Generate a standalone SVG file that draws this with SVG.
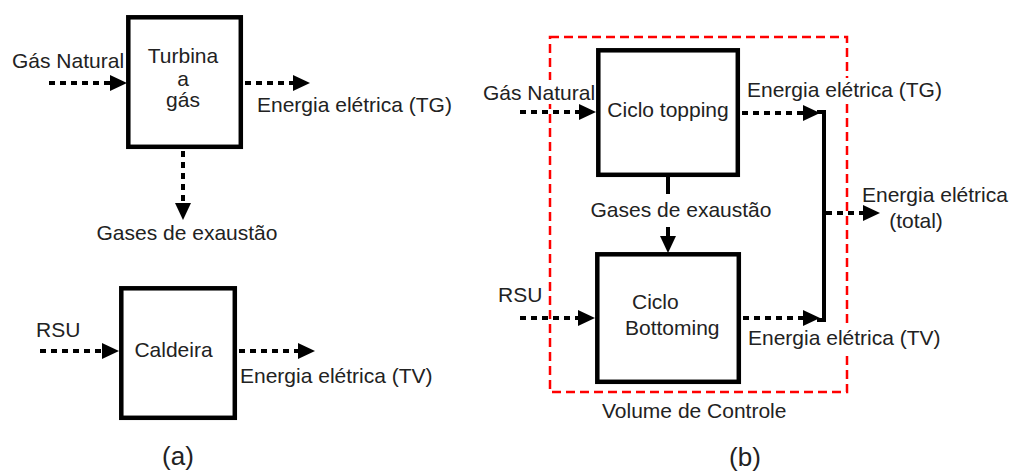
<svg xmlns="http://www.w3.org/2000/svg" width="1021" height="475" viewBox="0 0 1021 475">
<style>
text{font-family:"Liberation Sans",Arial,sans-serif;font-size:21px;fill:#222}
.big{font-size:26px}
.box{fill:#fff;stroke:#000;stroke-width:4.5}
.dot{fill:none;stroke:#000;stroke-width:4;stroke-dasharray:6 5}
.sol{fill:none;stroke:#000;stroke-width:4}
.cv{fill:none;stroke:#f00;stroke-width:2.5;stroke-dasharray:9 5}
.bg{fill:#fff;stroke:none}
</style>
<defs>
<marker id="ah" markerUnits="userSpaceOnUse" markerWidth="17" markerHeight="16" viewBox="0 0 17 16" refX="0" refY="8" orient="auto">
<path d="M0,0 L17,8 L0,16 z" fill="#000"/>
</marker>
</defs>
<rect x="0" y="0" width="1021" height="475" fill="#fff"/>
<g id="volume-controle">
<rect class="cv" x="550" y="37" width="297" height="355"/>
<text x="602" y="418">Volume de Controle</text>
</g>
<g id="connectors">
<line class="dot" x1="49" y1="83" x2="110" y2="83" marker-end="url(#ah)"/>
<line class="dot" x1="245" y1="83" x2="293" y2="83" marker-end="url(#ah)"/>
<line class="dot" x1="183" y1="151" x2="183" y2="203" marker-end="url(#ah)"/>
<line class="dot" x1="40" y1="351" x2="102" y2="351" marker-end="url(#ah)"/>
<line class="dot" x1="239" y1="351" x2="298" y2="351" marker-end="url(#ah)"/>
<line class="dot" x1="520" y1="112" x2="579" y2="112" marker-end="url(#ah)"/>
<line class="dot" x1="742" y1="113" x2="803" y2="113" marker-end="url(#ah)"/>
<line class="dot" x1="520" y1="318" x2="578" y2="318" marker-end="url(#ah)"/>
<line class="dot" x1="743" y1="318" x2="803" y2="318" marker-end="url(#ah)"/>
<path class="sol" d="M817,112 H824 V320 H817" stroke-width="3.5"/>
<line class="dot" x1="826" y1="213" x2="863" y2="213" marker-end="url(#ah)"/>
<line class="sol" x1="668" y1="177" x2="668" y2="194"/>
<line class="sol" x1="668" y1="227" x2="668" y2="236" marker-end="url(#ah)"/>
</g>
<g id="panel-a">
<g id="turbina">
<rect class="box" x="128.3" y="17.3" width="112.5" height="129.5"/>
<text x="183" y="63" text-anchor="middle">Turbina</text>
<text x="183" y="86" text-anchor="middle">a</text>
<text x="183" y="107" text-anchor="middle">gás</text>
</g>
<g id="caldeira">
<rect class="box" x="121.3" y="288.3" width="113.5" height="129.5"/>
<text x="173.5" y="357" text-anchor="middle">Caldeira</text>
</g>
<text x="12" y="68">Gás Natural</text>
<text x="257" y="112">Energia elétrica (TG)</text>
<text x="187" y="240" text-anchor="middle">Gases de exaustão</text>
<text x="36" y="337">RSU</text>
<text x="240" y="383">Energia elétrica (TV)</text>
<text class="big" x="178" y="465" text-anchor="middle">(a)</text>
</g>
<g id="panel-b">
<g id="topping">
<rect class="box" x="598.3" y="50.3" width="139.5" height="124.5"/>
<text x="668" y="117" text-anchor="middle">Ciclo topping</text>
</g>
<g id="bottoming">
<rect class="box" x="597.3" y="254.3" width="141.5" height="127.5"/>
<text x="632" y="309">Ciclo</text>
<text x="625" y="335">Bottoming</text>
</g>
<rect class="bg" x="481" y="80" width="113" height="24"/>
<text x="483" y="100">Gás Natural</text>
<rect class="bg" x="745" y="78" width="198" height="25"/>
<text x="747" y="97">Energia elétrica (TG)</text>
<text x="681" y="217" text-anchor="middle">Gases de exaustão</text>
<text x="862" y="202">Energia elétrica</text>
<text x="916" y="228" text-anchor="middle">(total)</text>
<text x="498" y="302">RSU</text>
<rect class="bg" x="746" y="328" width="198" height="24"/>
<text x="748" y="345">Energia elétrica (TV)</text>
<text class="big" x="745" y="466" text-anchor="middle">(b)</text>
</g>
</svg>
